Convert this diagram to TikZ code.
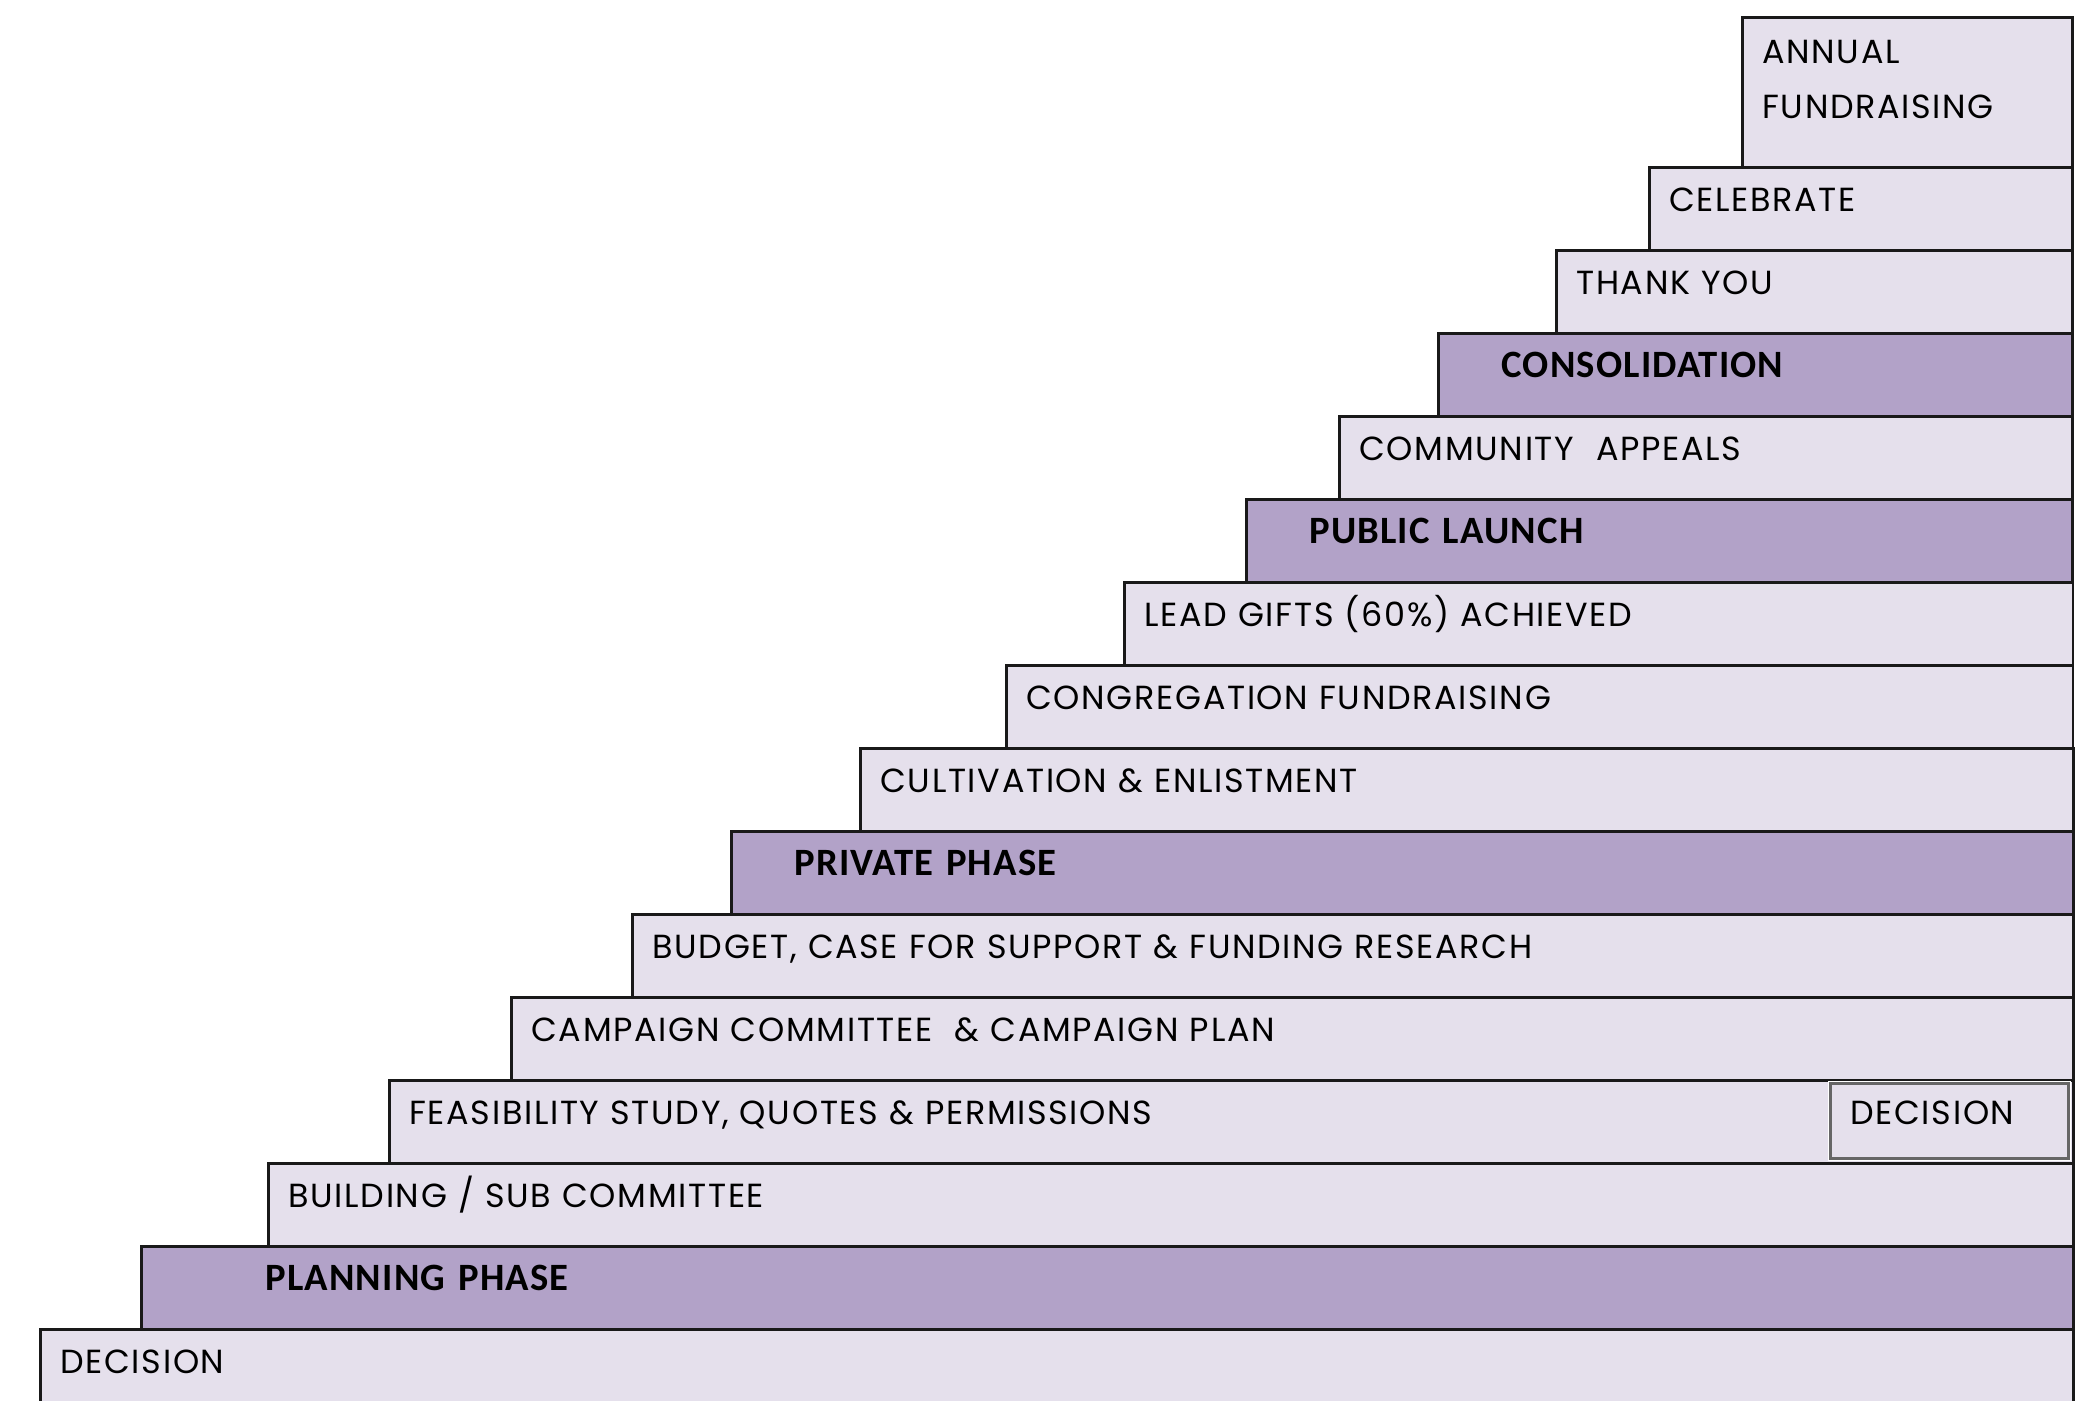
\documentclass[tikz,border=0pt]{standalone}
\usepackage{fontspec}
\setmainfont{Poppins}[LetterSpace=5]
\newfontfamily\phasefont{Carlito}[LetterSpace=3]
\usepackage{tikz}

\definecolor{stagefill}{HTML}{E5E0EC}
\definecolor{phasefill}{HTML}{B2A2C8}

\begin{document}
\begin{tikzpicture}[x=0.01cm,y=-0.01cm,
  stage/.style={draw=black!90, line width=0.8pt, fill=stagefill, anchor=north west,
    align=left, inner ysep=0pt, inner xsep=2mm, minimum height=8.3mm,
    text height=7pt, text depth=5.6pt, font=\fontsize{9.5}{11}\selectfont},
  phase/.style={stage, fill=phasefill, inner xsep=6.3mm,
    font=\phasefont\bfseries\fontsize{11}{12}\selectfont}]
  \useasboundingbox (0,0) rectangle (2084,1401);

% define the steps, from the top down
  \node[stage] (annual) at (1741,16) [text width=29mm, minimum height=15mm,
    text depth=23.4pt, font=\fontsize{9.5}{15.6}\selectfont] {ANNUAL\\FUNDRAISING};
  \node[stage] (celebrate)     at (1648,166)  [text width=38.3mm]  {CELEBRATE};
  \node[stage] (thankyou)      at (1555,249)  [text width=47.6mm]  {THANK YOU};
  \node[phase] (consolidation) at (1437,332)  [text width=50.8mm]  {CONSOLIDATION};
  \node[stage] (community)     at (1338,415)  [text width=69.3mm]  {COMMUNITY\ \ APPEALS};
  \node[phase] (publiclaunch)  at (1245,498)  [text width=70.0mm]  {PUBLIC LAUNCH};
  \node[stage] (leadgifts)     at (1123,581)  [text width=90.8mm]  {LEAD GIFTS (60\%) ACHIEVED};
  \node[stage] (congregation)  at (1005,664)  [text width=102.6mm] {CONGREGATION FUNDRAISING};
  \node[stage] (cultivation)   at (859,747)   [text width=117.2mm] {CULTIVATION \& ENLISTMENT};
  \node[phase] (privatephase)  at (730,830)   [text width=121.5mm] {PRIVATE PHASE};
  \node[stage] (budget)        at (631,913)   [text width=140.0mm] {BUDGET, CASE FOR SUPPORT \& FUNDING RESEARCH};
  \node[stage] (campaign)      at (510,996)   [text width=152.1mm] {CAMPAIGN COMMITTEE\ \ \& CAMPAIGN PLAN};
  \node[stage] (feasibility)   at (388,1079)  [text width=164.3mm] {FEASIBILITY STUDY, QUOTES \& PERMISSIONS};
  \node[stage] (building)      at (267,1162)  [text width=176.4mm] {BUILDING / SUB COMMITTEE};
  \node[phase] (planning)      at (140,1245)  [text width=168.3mm, inner xsep=12.4mm] {PLANNING PHASE};
  \node[stage] (decision)      at (39,1328)   [text width=199.2mm] {DECISION};

% the decision box inside the feasibility step
  \node[stage] (feasdecision)  at (1829,1082) [text width=19.8mm, minimum height=7.5mm,
    text depth=5pt, draw=black!60, preaction={draw=white, line width=1.2pt}] {DECISION};

\end{tikzpicture}
\end{document}
